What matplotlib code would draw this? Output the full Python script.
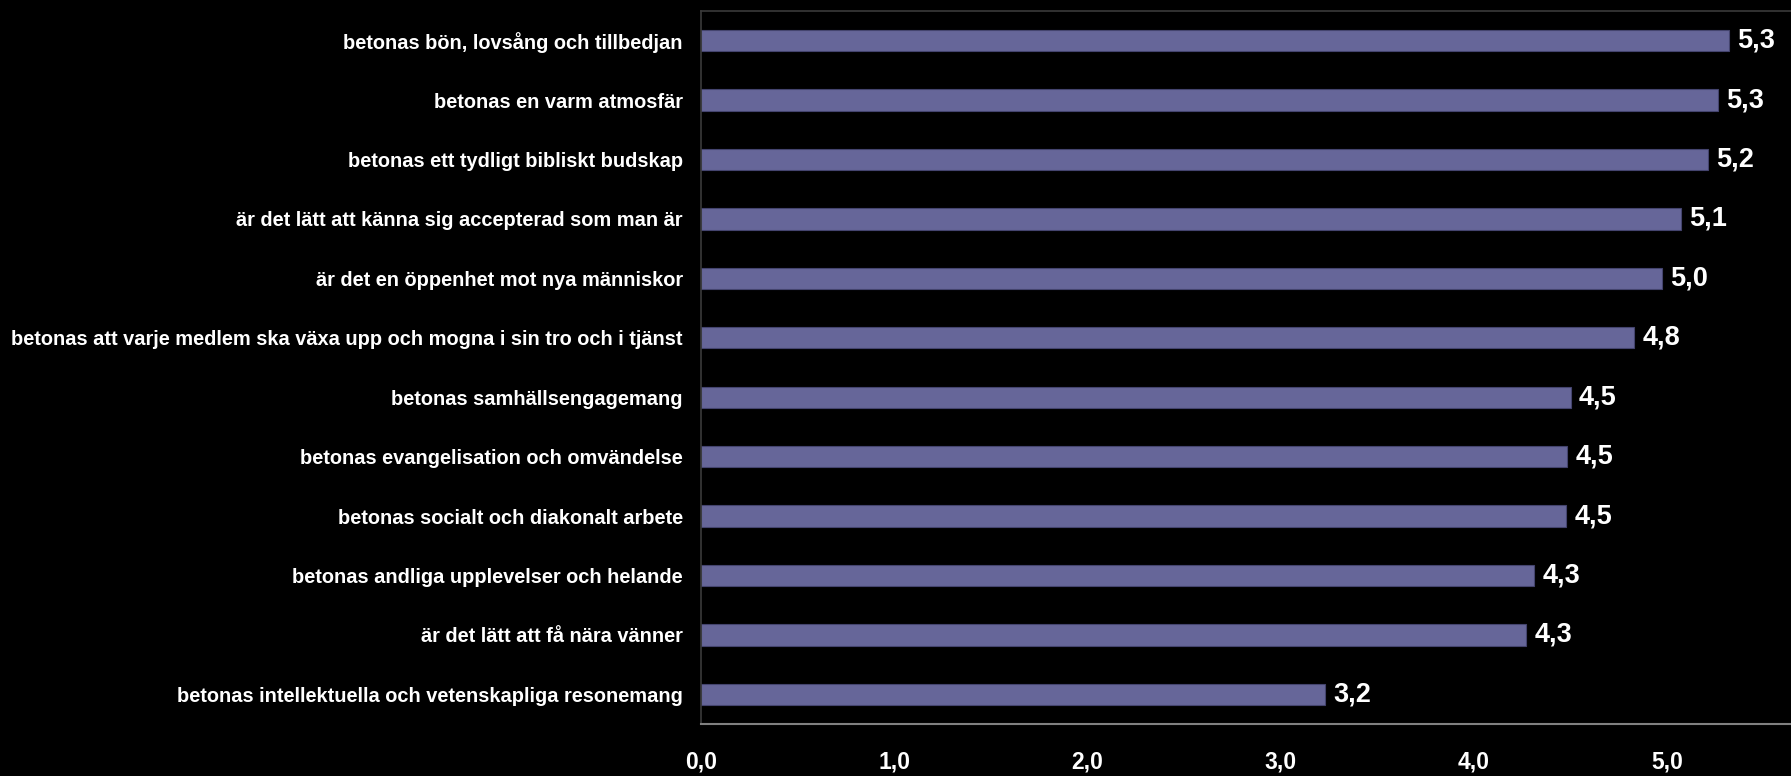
import matplotlib
matplotlib.use("Agg")
import matplotlib.pyplot as plt

categories = [
    "betonas bön, lovsång och tillbedjan",
    "betonas en varm atmosfär",
    "betonas ett tydligt bibliskt budskap",
    "är det lätt att känna sig accepterad som man är",
    "är det en öppenhet mot nya människor",
    "betonas att varje medlem ska växa upp och mogna i sin tro och i tjänst",
    "betonas samhällsengagemang",
    "betonas evangelisation och omvändelse",
    "betonas socialt och diakonalt arbete",
    "betonas andliga upplevelser och helande",
    "är det lätt att få nära vänner",
    "betonas intellektuella och vetenskapliga resonemang",
]
values = [5.32, 5.26, 5.21, 5.07, 4.97, 4.83, 4.50, 4.48, 4.475, 4.31, 4.27, 3.23]
value_labels = ["5,3", "5,3", "5,2", "5,1", "5,0", "4,8", "4,5", "4,5", "4,5", "4,3", "4,3", "3,2"]
xticks = [0, 1, 2, 3, 4, 5]
xtick_labels = ["0,0", "1,0", "2,0", "3,0", "4,0", "5,0"]

plt.rcParams['font.family'] = ['Liberation Sans', 'DejaVu Sans']

fig = plt.figure(figsize=(17.91, 7.76), dpi=100, facecolor='black')
ax = fig.add_axes([701/1791, 1 - 724/776, 1 - 701/1791, (724 - 11)/776])
ax.set_facecolor('black')

y = list(range(len(categories)))
ax.barh(y, values, height=0.36, color='#666699', edgecolor='#44446e', linewidth=0.8)
ax.set_ylim(len(categories) - 0.5, -0.5)
ax.set_xlim(0, 5.64)

for yi, v, lab in zip(y, values, value_labels):
    ax.annotate(lab, xy=(v, yi), xytext=(6, 0), textcoords='offset points',
                va='center', ha='left', color='white', fontsize=19.5, fontweight='bold')

ax.set_yticks(y)
ax.set_yticklabels(categories, fontsize=14.4, fontweight='bold', color='white')
ax.set_xticks(xticks)
ax.set_xticklabels(xtick_labels, fontsize=16.5, fontweight='bold', color='white')
ax.tick_params(axis='y', length=0, pad=13)
ax.tick_params(axis='x', length=0, pad=19)

ax.spines['right'].set_visible(False)
ax.spines['top'].set_color('#3a3a3a')
ax.spines['top'].set_linewidth(1.2)
ax.spines['left'].set_color('#3a3a3a')
ax.spines['left'].set_linewidth(1.2)
ax.spines['bottom'].set_color('#808080')
ax.spines['bottom'].set_linewidth(1.5)

fig.savefig('out.png', dpi=100, facecolor='black')
